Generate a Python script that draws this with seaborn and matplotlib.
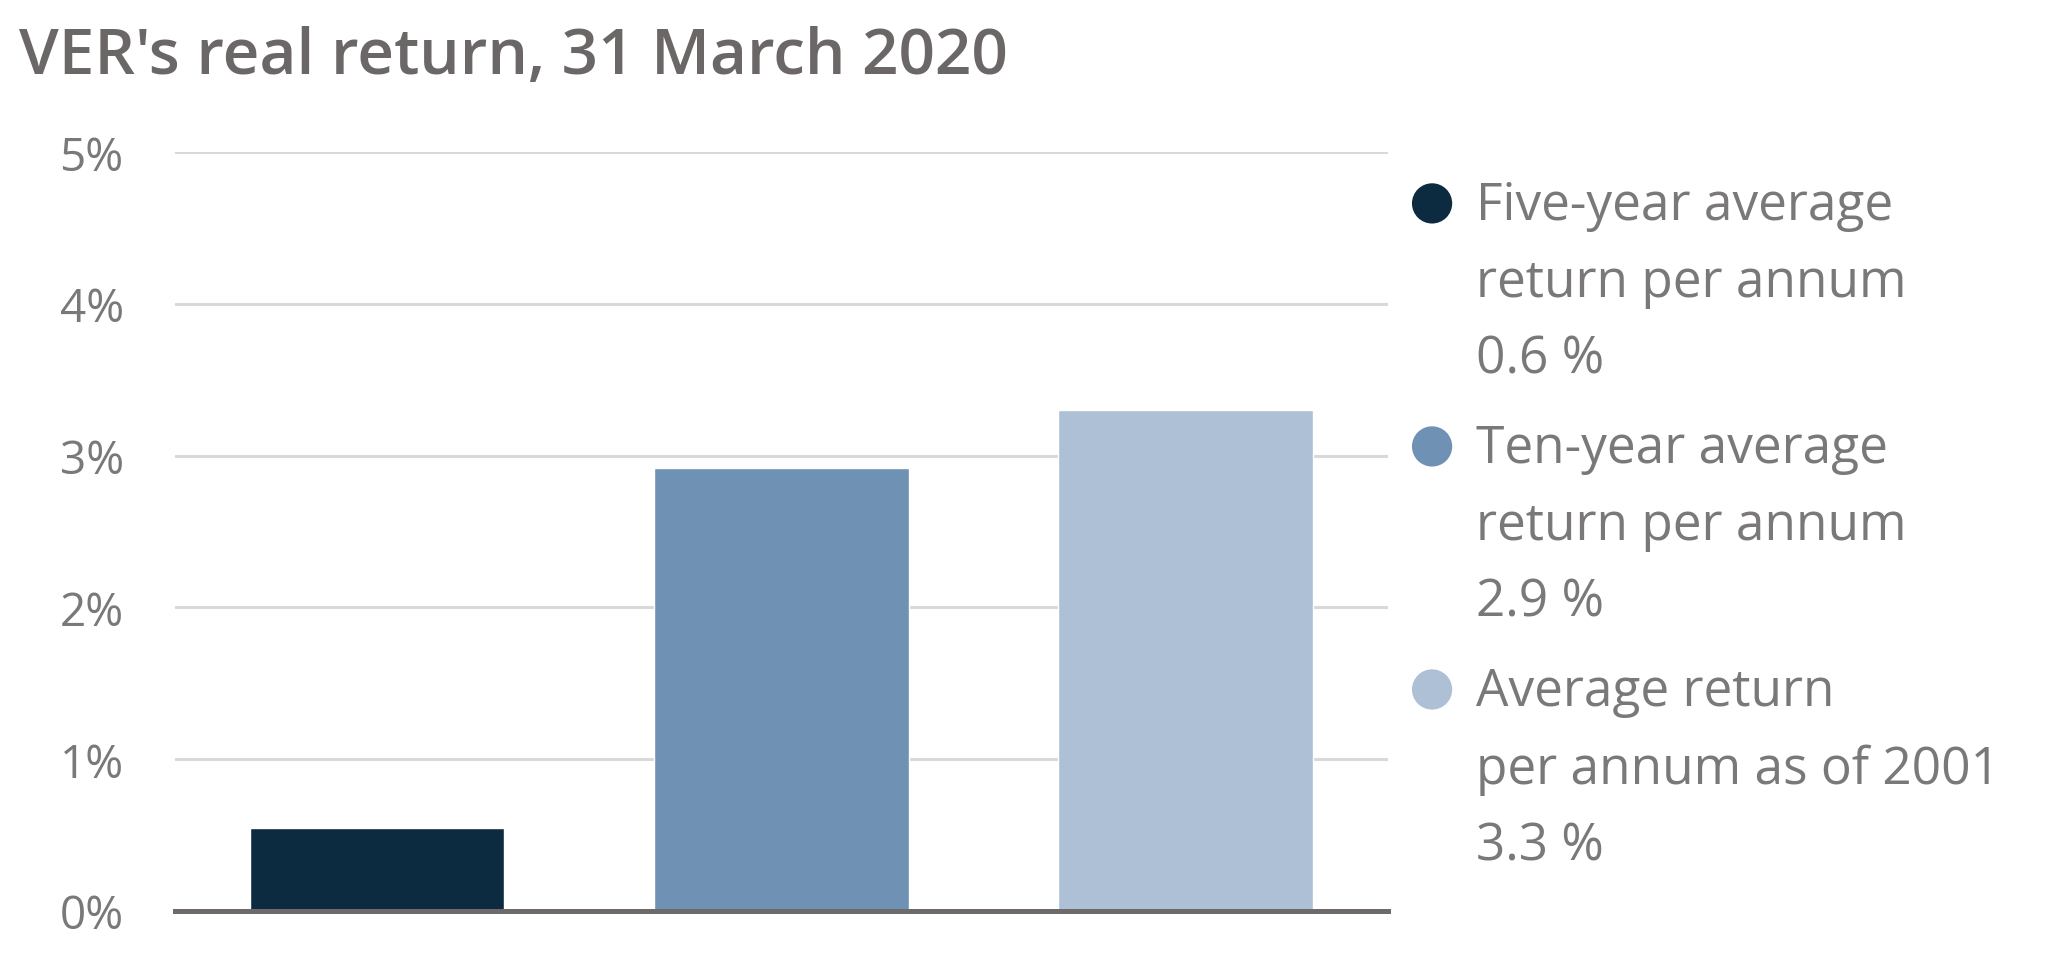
import matplotlib
matplotlib.use("Agg")
import matplotlib.pyplot as plt
import seaborn as sns
import pandas as pd

# data
categories = ["Five-year", "Ten-year", "Since 2001"]
values = [0.55, 2.92, 3.30]
legend_labels = [
    "Five-year average\nreturn per annum\n0.6 %",
    "Ten-year average\nreturn per annum\n2.9 %",
    "Average return\nper annum as of 2001\n3.3 %",
]
bar_colors = ["#0d2b40", "#6f91b4", "#adc0d5"]
yticks = [0, 1, 2, 3, 4, 5]
ytick_labels = ["0%", "1%", "2%", "3%", "4%", "5%"]

df = pd.DataFrame({"cat": categories, "val": values})

sns.set_theme(style="white")
plt.rcParams["font.family"] = ["Open Sans", "DejaVu Sans"]

fig = plt.figure(figsize=(20.59, 9.78), dpi=100)
ax = fig.add_axes([0.085, 0.0675, 0.589, 0.776])

sns.barplot(data=df, x="cat", y="val", hue="cat", palette=bar_colors,
            width=0.63, legend=False, ax=ax, saturation=1)

ax.set_ylim(0, 5)
ax.set_xlim(-0.5, 2.5)
ax.set_yticks(yticks)
ax.set_yticklabels(ytick_labels)
ax.set_xticks([])
ax.set_xlabel("")
ax.set_ylabel("")
ax.tick_params(axis="y", length=0, pad=37, labelsize=33, labelcolor="#7a7878")
for y in yticks[1:]:
    ax.axhline(y, color="#d9d9d9", lw=2.2, zorder=0)
for s in ["top", "right", "left"]:
    ax.spines[s].set_visible(False)
ax.spines["bottom"].set_color("#6d6a69")
ax.spines["bottom"].set_linewidth(3.6)
ax.spines["bottom"].set_zorder(5)

fig.text(0.009, 0.924, "VER's real return, 31 March 2020", fontsize=46,
         fontweight="semibold", color="#6b6767", va="baseline", ha="left")

# legend drawn beside the chart
leg = fig.add_axes([0.68, 0.0, 0.32, 1.0])
leg.set_axis_off()
leg.set_xlim(0, 1)
leg.set_ylim(0, 1)
for i, (lab, col) in enumerate(zip(legend_labels, bar_colors)):
    ymark = 0.791 - i * 0.2485
    leg.scatter([0.0485], [ymark], s=840, color=col, edgecolors="none")
    leg.text(0.115, ymark + 0.024, lab, fontsize=37, color="#7a7878", va="top",
             ha="left", linespacing=1.66,
             transform=leg.transAxes)

fig.savefig("out.png", dpi=100)
